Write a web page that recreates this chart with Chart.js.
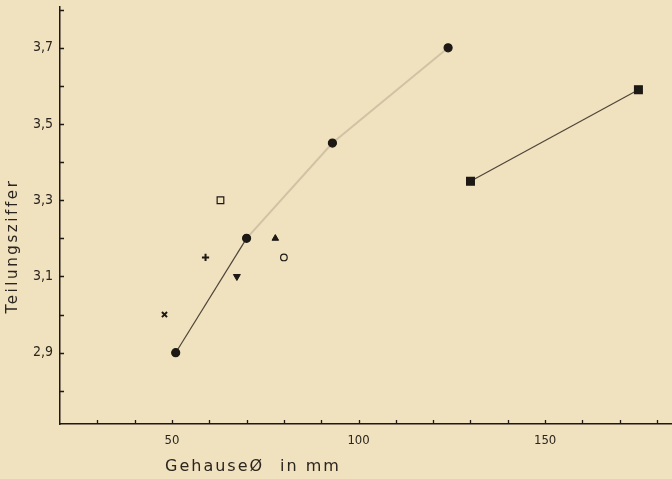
<!DOCTYPE html>
<html><head><meta charset="utf-8">
<script src="https://cdn.jsdelivr.net/npm/chart.js@4"></script>
<style>html,body{margin:0;padding:0;background:#f0e1bf;}canvas{display:block}</style>
</head><body>
<canvas id="c" width="672" height="479"></canvas>
<script>
// ---- data ----
const circleX = [51, 70, 93, 124];
const circleY = [2.90, 3.20, 3.45, 3.70];
const squareX = [130, 175];
const squareY = [3.35, 3.59];
const openSquarePt = [63, 3.30];
const plusPt = [59, 3.15];
const crossPt = [48, 3.00];
const downTriPt = [67.4, 3.10];
const upTriPt = [77.7, 3.20];
const openCirclePt = [80, 3.15];

const xTickValues = [50, 100, 150];
const xTickLabels = ['50', '100', '150'];
const yTickValues = [2.9, 3.1, 3.3, 3.5, 3.7];
const yTickLabels = ['2,9', '3,1', '3,3', '3,5', '3,7'];
const xMinorTicks = [30, 40, 50, 60, 70, 80, 90, 100, 110, 120, 130, 140, 150, 160, 170, 180];
const yMinorTicks = [2.8, 2.9, 3.0, 3.1, 3.2, 3.3, 3.4, 3.5, 3.6, 3.7, 3.8];
const xTitle = ['Gehause\u00D8', 'in mm'];
const yTitle = 'Teilungsziffer';

const INK = '#1d1914';
const LINE = '#4d4538';
const FAINT = 'rgba(120,108,88,0.26)';
const FONT = "'DejaVu Sans Condensed','Liberation Sans Narrow','DejaVu Sans',sans-serif";

const pts = (xs, ys) => xs.map((x, i) => ({x, y: ys[i]}));
const one = p => [{x: p[0], y: p[1]}];

const bgPlugin = {
  id: 'bg',
  beforeDraw(chart) {
    const c = chart.ctx;
    c.save(); c.fillStyle = '#f0e1bf'; c.fillRect(0, 0, chart.width, chart.height); c.restore();
  },
  afterDraw(chart) {
    const c = chart.ctx, xs = chart.scales.x, ys = chart.scales.y, a = chart.chartArea;
    c.save();
    c.strokeStyle = INK; c.lineWidth = 1.3;
    c.beginPath();
    xMinorTicks.forEach(v => { const px = Math.round(xs.getPixelForValue(v)) + 0.5; c.moveTo(px, a.bottom); c.lineTo(px, a.bottom - 4); });
    yMinorTicks.forEach(v => { const py = Math.round(ys.getPixelForValue(v)) + 0.5; c.moveTo(a.left, py); c.lineTo(a.left + 4, py); });
    c.stroke();
    c.fillStyle = '#2a251f';
    c.font = "16px 'DejaVu Sans','Liberation Sans',sans-serif";
    c.letterSpacing = '2px';
    c.textBaseline = 'middle';
    c.textAlign = 'left';
    c.fillText(xTitle[0], 165, 467);
    c.fillText(xTitle[1], 280, 467);
    c.font = "15px 'DejaVu Sans','Liberation Sans',sans-serif";
    c.letterSpacing = '2.6px';
    c.translate(13, 246);
    c.rotate(-Math.PI / 2);
    c.textAlign = 'center';
    c.fillText(yTitle, 0, 0);
    c.restore();
  }
};

new Chart(document.getElementById('c'), {
  type: 'scatter',
  data: {
    datasets: [
      { data: pts(circleX, circleY), showLine: true, pointStyle: 'circle', pointRadius: 4,
        backgroundColor: INK, borderColor: LINE, pointBorderColor: INK, borderWidth: 1.2,
        segment: {
          borderColor: ctx => ctx.p0DataIndex === 0 ? LINE : FAINT,
          borderWidth: ctx => ctx.p0DataIndex === 0 ? 1.2 : 2
        } },
      { data: pts(squareX, squareY), showLine: true, pointStyle: 'rect', pointRadius: 5.5,
        backgroundColor: INK, borderColor: LINE, pointBorderColor: INK, borderWidth: 1.2 },
      { data: one(openSquarePt), pointStyle: 'rect', pointRadius: 4.7, backgroundColor: 'rgba(0,0,0,0)', borderColor: INK, borderWidth: 1.2 },
      { data: one(plusPt), pointStyle: 'cross', pointRadius: 3.6, borderColor: INK, borderWidth: 2 },
      { data: one(crossPt), pointStyle: 'crossRot', pointRadius: 3.6, borderColor: INK, borderWidth: 2 },
      { data: one(downTriPt), pointStyle: 'triangle', rotation: 180, pointRotation: 180, pointRadius: 4, backgroundColor: INK, borderColor: INK, borderWidth: 1 },
      { data: one(upTriPt), pointStyle: 'triangle', pointRadius: 3.8, backgroundColor: INK, borderColor: INK, borderWidth: 1 },
      { data: one(openCirclePt), pointStyle: 'circle', pointRadius: 3.3, backgroundColor: 'rgba(0,0,0,0)', borderColor: INK, borderWidth: 1.2 }
    ]
  },
  options: {
    responsive: false, animation: false, clip: false,
    layout: { autoPadding: false, padding: { top: 7, left: 0, right: 0, bottom: 0 } },
    plugins: { legend: { display: false }, tooltip: { enabled: false } },
    scales: {
      x: {
        type: 'linear', min: 20, max: 184,
        afterBuildTicks: s => { s.ticks = xTickValues.map(v => ({value: v})); },
        afterFit: s => { s.height = 55; s.paddingLeft = 0; s.paddingRight = 0; },
        grid: { display: false, drawTicks: false },
        border: { display: true, color: INK, width: 1.5 },
        ticks: { autoSkip: false, maxRotation: 0, padding: 9, color: '#2a251f',
          font: { family: FONT, size: 13 },
          callback: v => xTickLabels[xTickValues.indexOf(v)] }
      },
      y: {
        type: 'linear', min: 2.713, max: 3.807,
        afterBuildTicks: s => { s.ticks = yTickValues.map(v => ({value: v})); },
        afterFit: s => { s.width = 60; s.paddingTop = 0; s.paddingBottom = 0; },
        grid: { display: false, drawTicks: false },
        border: { display: true, color: INK, width: 1.5 },
        ticks: { autoSkip: false, padding: 7, color: '#2a251f',
          font: { family: FONT, size: 14 },
          callback: (v, i) => yTickLabels[i] }
      }
    }
  },
  plugins: [bgPlugin]
});
</script>
</body></html>
